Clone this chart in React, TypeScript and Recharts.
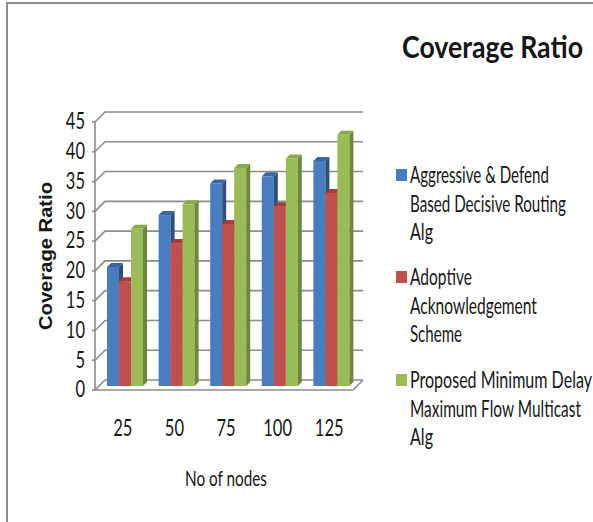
import React, { useLayoutEffect, useRef, useState } from 'react';
import { BarChart, Bar, XAxis, YAxis, CartesianGrid, Customized } from 'recharts';

// ---------- data ----------
const categories = ['25', '50', '75', '100', '125'];
const aggressiveDefend = [20, 28.7, 34, 35.2, 37.8];
const adoptiveAck = [17.6, 24, 27.2, 30.2, 32.4];
const proposedMinDelay = [26.4, 30.5, 36.6, 38.2, 42.2];
const yTicks = [0, 5, 10, 15, 20, 25, 30, 35, 40, 45];
const seriesNames = [
  'Aggressive & Defend Based Decisive Routing Alg',
  'Adoptive Acknowledgement Scheme',
  'Proposed Minimum Delay Maximum Flow Multicast Alg',
];
const legendLines = [
  ['Aggressive & Defend', 'Based Decisive Routing', 'Alg'],
  ['Adoptive', 'Acknowledgement', 'Scheme'],
  ['Proposed Minimum Delay', 'Maximum Flow Multicast', 'Alg'],
];
const chartTitle = 'Coverage Ratio';
const yAxisTitle = 'Coverage Ratio';
const xAxisTitle = 'No of nodes';

const data = categories.map((c, i) => ({
  nodes: c,
  s0: aggressiveDefend[i],
  s1: adoptiveAck[i],
  s2: proposedMinDelay[i],
}));

// ---------- styles / layout ----------
const W = 593;
const H = 522;
const PLOT_LEFT = 99;
const PLOT_RIGHT = 357;
const PLOT_TOP = 118;
const PLOT_BOTTOM = 386;
const GRID = '#8c8c8c';
const TEXT = '#161616';
const FONT = 'Lato, "Open Sans", sans-serif';

const colors = [
  { front: '#4a7dbf', top: '#3b67a0', side: '#2c4f7c' },
  { front: '#c0504d', top: '#a0403d', side: '#7e302e' },
  { front: '#9bbb59', top: '#8aa94c', side: '#6c883a' },
];
const legendWidths = [
  [139, 156, 23],
  [62, 127, 52],
  [182, 171, 23],
];
const legendStartY = [183, 285, 388];
const LINE_STEP = 28.5;

// Text squeezed horizontally to a target width (the reference text is condensed)
const FitText = (props: {
  x: number;
  y: number;
  width: number;
  rotate?: number;
  anchor?: 'start' | 'middle' | 'end';
  dy?: string;
  fontSize: number;
  fontWeight?: number;
  fontFamily?: string;
  children: string;
}) => {
  const ref = useRef<SVGTextElement>(null);
  const [sx, setSx] = useState(0.72);
  useLayoutEffect(() => {
    if (ref.current) {
      const natural = ref.current.getComputedTextLength();
      if (natural > 0) setSx(props.width / natural);
    }
  }, [props.width, props.children]);
  const rot = props.rotate ? ` rotate(${props.rotate})` : '';
  return (
    <text
      ref={ref}
      transform={`translate(${props.x}, ${props.y})${rot} scale(${sx}, 1)`}
      textAnchor={props.anchor || 'start'}
      dy={props.dy}
      fontFamily={props.fontFamily || FONT}
      fontSize={props.fontSize}
      fontWeight={props.fontWeight || 400}
      fill={TEXT}
    >
      {props.children}
    </text>
  );
};

const make3D = (c: { front: string; top: string; side: string }) => (p: any) => {
  const { x, y, width: w, height: h } = p;
  if (x == null || y == null || !w) return <g />;
  const d = 4;
  return (
    <g>
      <rect x={x} y={y} width={w} height={h} fill={c.front} />
      <polygon points={`${x},${y} ${x + d},${y - d} ${x + w + d},${y - d} ${x + w},${y}`} fill={c.top} />
      <polygon
        points={`${x + w},${y} ${x + w + d},${y - d} ${x + w + d},${y + h - d} ${x + w},${y + h}`}
        fill={c.side}
      />
    </g>
  );
};

const gridLine = (p: any) => {
  const { x1, x2, y1 } = p;
  const isFloor = Math.abs(y1 - PLOT_BOTTOM) < 1;
  return (
    <g key={p.key}>
      <polyline
        points={`${x1 - 4},${y1 + 4} ${x1 + 6},${y1 - 6} ${x2 + 6},${y1 - 6}`}
        fill="none"
        stroke={GRID}
        strokeWidth={1.6}
      />
      <line x1={x1 - 7} y1={y1 + 4} x2={x1 - 4} y2={y1 + 4} stroke={GRID} strokeWidth={1.6} />
      {isFloor && (
        <polyline
          points={`${x1 - 4},${PLOT_TOP + 4} ${x1 - 4},${y1 + 4} ${x2 - 4},${y1 + 4} ${x2 + 6},${y1 - 6}`}
          fill="none"
          stroke={GRID}
          strokeWidth={1.6}
        />
      )}
    </g>
  );
};

const YTick = (p: any) => (
  <text
    transform={`translate(85, ${p.y + 3}) scale(0.72, 1)`}
    textAnchor="end"
    dy="0.36em"
    fontFamily={FONT}
    fontSize={23}
    fill={TEXT}
  >
    {p.payload.value}
  </text>
);

const XTick = (p: any) => (
  <text
    transform={`translate(${p.x - 2}, 436) scale(0.72, 1)`}
    textAnchor="middle"
    fontFamily={FONT}
    fontSize={23}
    fill={TEXT}
  >
    {p.payload.value}
  </text>
);

const Decorations = () => (
  <g>
    <FitText x={402} y={58} width={181} fontSize={30} fontWeight={700}>
      {chartTitle}
    </FitText>
    <FitText
      x={45}
      y={256}
      width={148}
      rotate={-90}
      anchor="middle"
      dy="0.35em"
      fontSize={19}
      fontWeight={700}
      fontFamily='"Liberation Sans", Arial, sans-serif'
    >
      {yAxisTitle}
    </FitText>
    <FitText x={185} y={486} width={82} fontSize={22}>
      {xAxisTitle}
    </FitText>
    {seriesNames.map((name, i) => (
      <g key={name}>
        <rect x={396} y={legendStartY[i] - 14} width={11} height={12} fill={colors[i].front} />
        {legendLines[i].map((line, j) => (
          <FitText key={j} x={410} y={legendStartY[i] + j * LINE_STEP} width={legendWidths[i][j]} fontSize={23}>
            {line}
          </FitText>
        ))}
      </g>
    ))}
  </g>
);

export default function App() {
  return (
    <div style={{ position: 'absolute', left: 0, top: 0, width: W, height: H, background: '#fff' }}>
      <div
        style={{
          position: 'absolute',
          left: 6,
          top: 2,
          width: W - 6,
          height: H - 2,
          borderLeft: '2px solid #8e8e8e',
          borderTop: '2px solid #8e8e8e',
          boxSizing: 'border-box',
        }}
      />
      <div style={{ position: 'absolute', left: 0, top: 0 }}>
        <BarChart
          width={W}
          height={H}
          data={data}
          margin={{ top: PLOT_TOP, right: W - PLOT_RIGHT, bottom: H - PLOT_BOTTOM - 80, left: PLOT_LEFT - 60 }}
          barCategoryGap={8}
          barGap={0}
        >
          <CartesianGrid vertical={false} horizontal={gridLine} />
          <XAxis
            dataKey="nodes"
            height={80}
            axisLine={false}
            tickLine={false}
            tick={XTick}
            interval={0}
          />
          <YAxis
            width={60}
            domain={[0, 45]}
            ticks={yTicks}
            axisLine={false}
            tickLine={false}
            tick={YTick}
            interval={0}
          />
          <Bar dataKey="s0" name={seriesNames[0]} shape={make3D(colors[0])} isAnimationActive={false} />
          <Bar dataKey="s1" name={seriesNames[1]} shape={make3D(colors[1])} isAnimationActive={false} />
          <Bar dataKey="s2" name={seriesNames[2]} shape={make3D(colors[2])} isAnimationActive={false} />
          <Customized component={Decorations} />
        </BarChart>
      </div>
    </div>
  );
}
